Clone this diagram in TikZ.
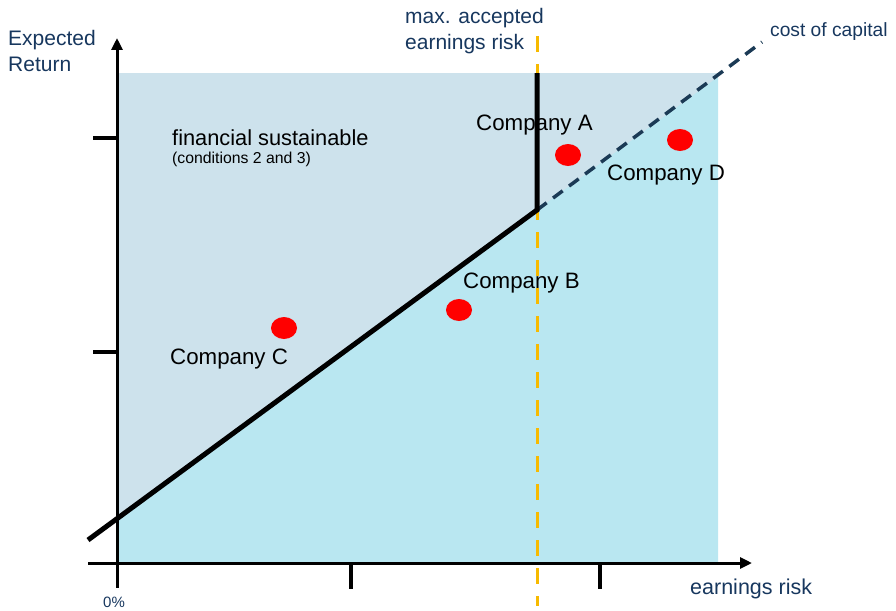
\documentclass[tikz,border=0pt]{standalone}
\usepackage{fontspec}
\setmainfont{Liberation Sans}
\usetikzlibrary{arrows.meta,shapes.geometric}
\definecolor{navy}{HTML}{17375E}
\definecolor{dashnavy}{HTML}{1B3A55}
\definecolor{upperfill}{HTML}{CDE2EC}
\definecolor{lowerfill}{HTML}{B9E7F1}
\definecolor{orangeline}{HTML}{F7BA00}
\definecolor{dotred}{HTML}{FF0000}
\tikzset{
  axislbl/.style={text=navy, font=\fontsize{21}{26}\selectfont, inner sep=0pt},
  complbl/.style={text=black, font=\fontsize{22.3}{26}\selectfont, inner sep=0pt, anchor=west},
  dot/.style={ellipse, fill=dotred, minimum width=26pt, minimum height=22pt, inner sep=0pt},
  axisline/.style={line width=3pt, -{Triangle[length=12pt,width=11pt]}},
  tick/.style={line width=4.5pt},
  boundary/.style={line width=5pt, line join=miter},
}
\begin{document}
\begin{tikzpicture}[x=1pt,y=-1pt]
\useasboundingbox (0,0) rectangle (896,610);
% coordinates
\coordinate (o) at (117,563);
\coordinate (ytop) at (117,38);
\coordinate (ybot) at (117,588);
\coordinate (xleft) at (88,563);
\coordinate (xtip) at (752,563);
\coordinate (lstart) at (88,540);
\coordinate (kink) at (537,210);
\coordinate (vtop) at (537,73);
\coordinate (cend) at (762,42);
\coordinate (otop) at (537,36);
\coordinate (obot) at (537,606);
% regions
\fill[upperfill] (117,73) rectangle (718,563);
\fill[lowerfill] (117,519) -- (kink) -- (718,77) -- (718,563) -- (117,563) -- cycle;
% orange max risk line
\draw[orangeline, line width=3pt, dash pattern=on 16pt off 12pt] (otop) -- (obot);
% cost of capital dashed
\draw[dashnavy, line width=3.5pt, dash pattern=on 12pt off 8pt] (kink) -- (cend);
% axes
\draw[line width=3pt] (o) -- (ybot);
\draw[axisline] (o) -- (ytop);
\draw[axisline] (xleft) -- (xtip);
% ticks
\draw[tick] (93,138) -- (117,138);
\draw[tick] (93,352) -- (117,352);
\draw[tick] (351,563) -- (351,589);
\draw[tick] (600,563) -- (600,589);
% boundary
\draw[boundary] (lstart) -- (kink) -- (vtop);
% labels
\node[axislbl, anchor=north west, align=left] (ylbl) at (8,30) {Expected\\Return};
\node[axislbl, anchor=north west, align=left] (maxlbl) at (405,8) {max. accepted\\earnings risk};
\node[axislbl, anchor=west, font=\fontsize{19.2}{24}\selectfont] (coclbl) at (770,32) {cost of capital};
\node[axislbl, anchor=west, font=\fontsize{21.5}{26}\selectfont] (xlbl) at (690,589) {earnings risk};
\node[axislbl, anchor=west, font=\fontsize{15}{18}\selectfont] (zero) at (103,602) {0\%};
\node[complbl, font=\fontsize{21.8}{26}\selectfont] (fin) at (172,138) {financial sustainable};
\node[complbl, font=\fontsize{15.8}{18}\selectfont] (cond) at (172,159) {(conditions 2 and 3)};
% companies
\node[dot] (da) at (568,155) {};
\node[dot] (dd) at (680,140) {};
\node[dot] (db) at (459,310) {};
\node[dot] (dc) at (284,328) {};
\node[complbl] (la) at (476,125) {Company A};
\node[complbl] (ld) at (607,175) {Company D};
\node[complbl] (lb) at (463,283) {Company B};
\node[complbl] (lc) at (170,359) {Company C};
\end{tikzpicture}
\end{document}
